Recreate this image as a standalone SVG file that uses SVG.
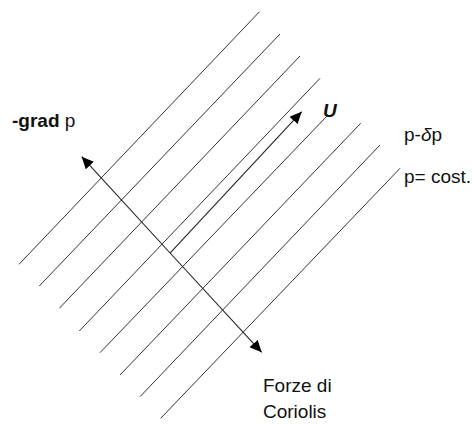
<svg xmlns="http://www.w3.org/2000/svg" width="475" height="425" viewBox="0 0 475 425">
<defs>
<marker id="ah" viewBox="0 0 12 11" refX="12" refY="5.5" markerWidth="12" markerHeight="11" markerUnits="userSpaceOnUse" orient="auto">
<path d="M0,0 L12,5.5 L0,11 Z" fill="#000"/>
</marker>
<style>
.iso{stroke:#333;stroke-width:1;fill:none}
.vec{stroke:#222;stroke-width:1.1;fill:none}
text{font-family:"Liberation Sans",Arial,sans-serif;font-size:19px;fill:#111}
</style>
</defs>
<rect width="475" height="425" fill="#fff"/>
<g id="isobars">
<line class="iso" x1="259.5" y1="11.7" x2="19" y2="264.3"/>
<line class="iso" x1="280" y1="34" x2="39.3" y2="286"/>
<line class="iso" x1="300" y1="56" x2="59.3" y2="308.3"/>
<line class="iso" x1="320" y1="78.3" x2="79.3" y2="331"/>
<line class="iso" x1="328" y1="115" x2="100" y2="352.7"/>
<line class="iso" x1="360.7" y1="123.3" x2="120" y2="375"/>
<line class="iso" x1="380" y1="145" x2="140" y2="396.7"/>
<line class="iso" x1="400" y1="168.3" x2="160.7" y2="418.3"/>
</g>
<g id="connectors">
<line class="vec" x1="170" y1="253" x2="301.7" y2="111.7" marker-end="url(#ah)"/>
<line class="vec" x1="171" y1="254" x2="81.7" y2="156.7" marker-end="url(#ah)"/>
<line class="vec" x1="171" y1="254" x2="261.7" y2="352.3" marker-end="url(#ah)"/>
</g>
<g id="label-grad"><text x="12" y="127"><tspan font-weight="bold">-grad</tspan> p</text></g>
<g id="label-U"><text x="323" y="117" font-weight="bold" font-style="italic" font-size="17">U</text></g>
<g id="label-pdp"><text x="404" y="141">p-<tspan font-style="italic">δ</tspan>p</text></g>
<g id="label-pcost"><text x="404" y="182.5">p= cost.</text></g>
<g id="label-coriolis"><text x="263" y="392">Forze di</text><text x="263" y="418">Coriolis</text></g>
</svg>
